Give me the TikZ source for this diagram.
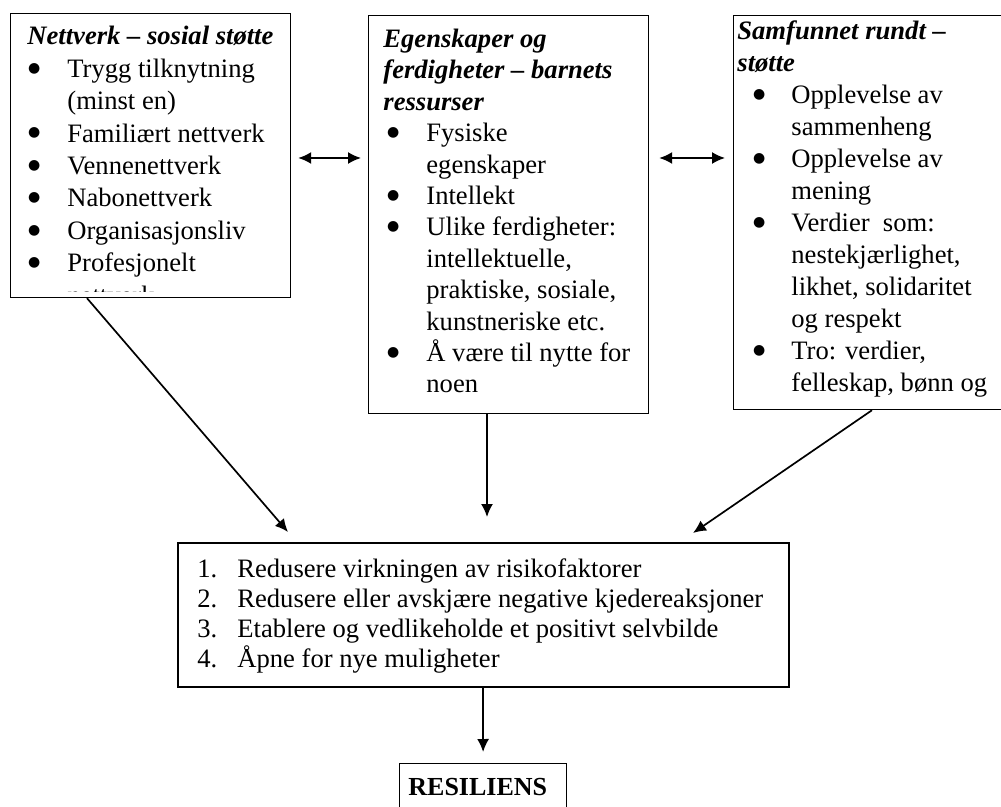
\documentclass[tikz,border=0pt]{standalone}
\usepackage{fontspec}
\setmainfont{Liberation Serif}
\newfontfamily\dotfont{DejaVu Sans}
\usetikzlibrary{arrows.meta,calc}

% indents of the bullet and of the item text
\newlength\bulind
\newlength\txtind
\newcommand\bdot{\raisebox{2.6pt}{\dotfont\fontsize{7pt}{7pt}\selectfont ●}}
\newcommand\hd[1]{\par\noindent\textbf{\textit{#1}}}
\newcommand\bli[1]{\par\noindent\makebox[\txtind][l]{\hspace*{\bulind}\bdot}#1}
\newcommand\cnt[1]{\par\noindent\hspace*{\txtind}#1}
\newcommand\nli[2]{\par\noindent\makebox[20pt][l]{#1}#2}

\begin{document}
\begin{tikzpicture}[x=0.5pt,y=-0.5pt,
  box/.style={draw, line width=0.6pt, inner sep=0, anchor=north west},
  txt/.style={inner sep=0, anchor=base west},
  arr/.style={-{Latex[length=6.5pt,width=6pt]}, line width=0.85pt},
  dbl/.style={{Latex[length=6.5pt,width=6pt]}-{Latex[length=6.5pt,width=6pt]}, line width=0.85pt}]
\useasboundingbox (0,0) rectangle (1001,807);

% the three source boxes
\node[box, minimum width=140pt, minimum height=142pt] (net) at (10,13) {};
\node[box, minimum width=140pt, minimum height=199pt] (egen) at (368,15) {};
\node[box, minimum width=140pt, minimum height=197pt] (samf) at (733,15) {};

% the box of mechanisms and the result
\node[box, line width=1pt, minimum width=305.5pt, minimum height=72pt] (eff) at (177,542) {};
\node[box, minimum width=83.5pt, minimum height=40pt] (res) at (399,763) {};

% text of the first box, cut off at its lower edge
\begin{scope}
\clip (net.north west) rectangle ($(net.south east)+(0,-7)$);
\node[txt] (nettxt) at (27,45) {\parbox[t]{150pt}{\fontsize{13.3pt}{16.2pt}\selectfont
  \setlength\bulind{0.3pt}\setlength\txtind{20pt}%
  \hd{Nettverk – sosial støtte}
  \bli{Trygg tilknytning}
  \cnt{(minst en)}
  \bli{Familiært nettverk}
  \bli{Vennenettverk}
  \bli{Nabonettverk}
  \bli{Organisasjonsliv}
  \bli{Profesjonelt}
  \cnt{nettverk}}};
\end{scope}

\node[txt] (egentxt) at (383,47.5) {\parbox[t]{150pt}{\fontsize{13.3pt}{15.7pt}\selectfont
  \setlength\bulind{1.8pt}\setlength\txtind{21.5pt}%
  \hd{Egenskaper og}
  \hd{ferdigheter – barnets}
  \hd{ressurser}
  \bli{Fysiske}
  \cnt{egenskaper}
  \bli{Intellekt}
  \bli{Ulike ferdigheter:}
  \cnt{intellektuelle,}
  \cnt{praktiske, sosiale,}
  \cnt{kunstneriske etc.}
  \bli{Å være til nytte for}
  \cnt{noen}}};

\begin{scope}
\clip (samf.north west) rectangle ($(samf.south east)+(0,-10)$);
\node[txt] (samftxt) at (737,39.5) {\parbox[t]{150pt}{\fontsize{13.3pt}{16pt}\selectfont
  \setlength\bulind{7.8pt}\setlength\txtind{27pt}%
  \hd{Samfunnet rundt –}
  \hd{støtte}
  \bli{Opplevelse av}
  \cnt{sammenheng}
  \bli{Opplevelse av}
  \cnt{mening}
  \bli{Verdier\ \ som:}
  \cnt{nestekjærlighet,}
  \cnt{likhet, solidaritet}
  \cnt{og respekt}
  \bli{Tro: verdier,}
  \cnt{felleskap, bønn og}}};
\end{scope}

\node[txt] (efftxt) at (197,577) {\parbox[t]{300pt}{\fontsize{13.3pt}{15pt}\selectfont
  \nli{1.}{Redusere virkningen av risikofaktorer}
  \nli{2.}{Redusere eller avskjære negative kjedereaksjoner}
  \nli{3.}{Etablere og vedlikeholde et positivt selvbilde}
  \nli{4.}{Åpne for nye muligheter}}};

\node[txt] (restxt) at (408,795) {\fontsize{13pt}{15pt}\selectfont\textbf{RESILIENS}};

% connectors
\coordinate (lvl) at (0,158);
\draw[dbl] ([xshift=3.5pt]net.east |- lvl) -- ([xshift=-3.5pt]egen.west |- lvl);
\draw[dbl] ([xshift=5pt]egen.east |- lvl) -- ([xshift=-4pt]samf.west |- lvl);

\draw[arr] ($(net.south west)+(77,0)$) -- ($(eff.north west)+(111,-10)$);
\draw[arr] ($(egen.south west)+(119,0)$) -- ($(eff.north west)+(310,-25)$);
\draw[arr] ($(samf.south west)+(139,0)$) -- ($(eff.north west)+(516,-9)$);
\draw[arr] ($(eff.south west)+(306,0)$) -- ([yshift=5.5pt]res.north);
\end{tikzpicture}
\end{document}
